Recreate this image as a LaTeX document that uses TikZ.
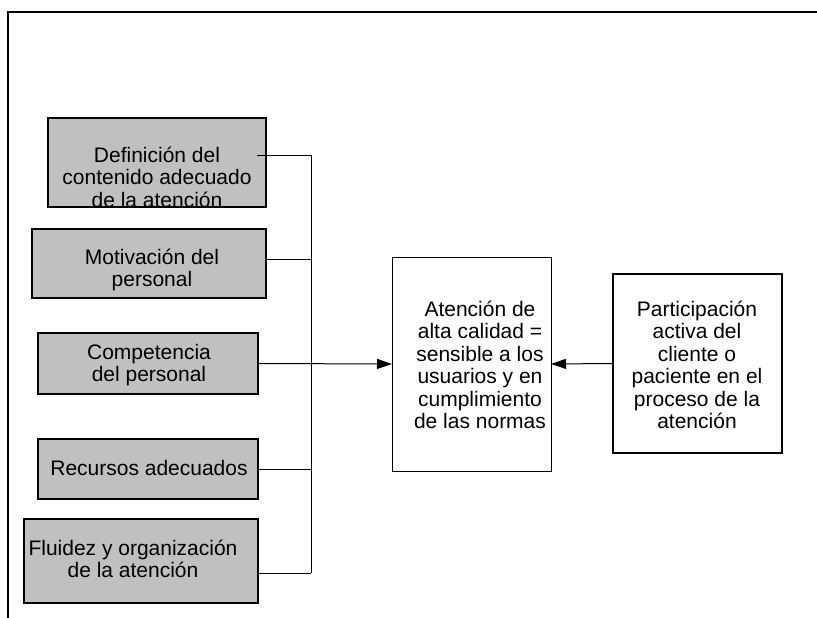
\documentclass[tikz,border=0pt]{standalone}
\usepackage{fontspec}
\setmainfont{Liberation Sans}
\usetikzlibrary{arrows.meta}
\definecolor{boxgray}{HTML}{C0C0C0}
\begin{document}
\begin{tikzpicture}[x=1pt,y=-1pt,
  graybox/.style={draw=black, line width=2pt, fill=boxgray, inner sep=0pt, outer sep=0pt},
  whitebox/.style={draw=black, fill=white, inner sep=0pt, outer sep=0pt},
  lbl/.style={align=center, inner sep=0pt, font=\fontsize{21}{22.5}\selectfont},
  conn/.style={draw=black, line width=1pt},
  arr/.style={conn, -{Triangle[length=15pt,width=10pt]}},
  frame/.style={draw=black, line width=2pt}
]
\useasboundingbox (0,0) rectangle (817,618);
% outer frame
\coordinate (fa) at (817,12);
\coordinate (fb) at (8,12);
\coordinate (fc) at (8,618);
\draw[frame] (fa) -- (fb) -- (fc);

% left boxes
\node[graybox, minimum width=218pt, minimum height=89pt] (b1) at (157,162.5) {};
\node[graybox, minimum width=234pt, minimum height=69pt] (b2) at (149,263.5) {};
\node[graybox, minimum width=220pt, minimum height=61pt] (b3) at (148,363.5) {};
\node[graybox, minimum width=220pt, minimum height=60pt] (b4) at (148,469) {};
\node[graybox, minimum width=234pt, minimum height=84pt] (b5) at (141,561) {};

% central and right boxes
\node[whitebox, line width=1pt, minimum width=159pt, minimum height=214pt] (c) at (471.5,364) {};
\node[whitebox, line width=2pt, minimum width=169pt, minimum height=179pt] (r) at (697.5,363.5) {};

% texts
\node[lbl] (l1) at (157,177) {Definición del\\contenido adecuado\\de la atención};
\node[lbl] (l2) at (152,270) {Motivación del\\personal};
\node[lbl] (l3) at (149,365) {Competencia\\del personal};
\node[lbl] (l4) at (149,468) {Recursos adecuados};
\node[lbl] (l5) at (133,559) {Fluidez y organización\\de la atención};
\node[lbl] (lc) at (480,365) {Atención de\\alta calidad =\\sensible a los\\usuarios y en\\cumplimiento\\de las normas};
\node[lbl] (lr) at (697,365) {Participación\\activa del\\cliente o\\paciente en el\\proceso de la\\atención};

% connectors
\coordinate (s1) at (257,155);
\coordinate (t1) at (311,155);
\coordinate (t2) at (311,259);
\coordinate (t5) at (311,573);
\draw[conn] (s1) -- (t1) -- (t5);
\draw[conn] (b2.east |- t2) -- (t2);
\draw[conn] (b4.east) -- (b4.east -| t1);
\draw[conn] (b5.east |- t5) -- (t5);
\draw[arr] (b3.east) -- (c.west);
\draw[arr] (r.west) -- (c.east);
\end{tikzpicture}
\end{document}
